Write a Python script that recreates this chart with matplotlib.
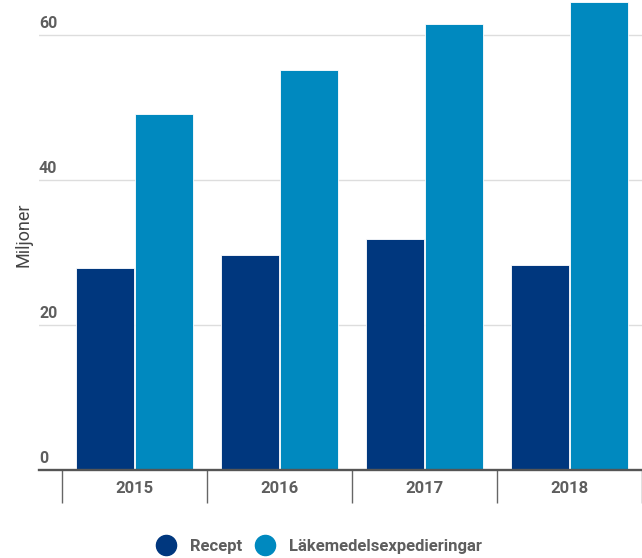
import matplotlib.pyplot as plt
from matplotlib.lines import Line2D
from matplotlib.transforms import ScaledTranslation
import numpy as np

plt.rcParams['font.family'] = ['Roboto', 'DejaVu Sans']

years = ['2015', '2016', '2017', '2018']
recept = [27.9, 29.6, 31.9, 28.3]
lakemedel = [49.1, 55.2, 61.5, 64.5]
yticks = [0, 20, 40, 60]

c_recept = '#00377e'
c_lak = '#0089bf'
txt = '#5e5e5e'
fw = 'bold'

fig = plt.figure(figsize=(6.42, 5.58), dpi=100)
ax = fig.add_axes([39 / 642, 1 - 470 / 558, 1 - 39 / 642, 470 / 558])

x = np.arange(len(years))
w = 0.4
ax.bar(x - 0.205, recept, w, color=c_recept, edgecolor='white', linewidth=0.6, zorder=3)
ax.bar(x + 0.205, lakemedel, w, color=c_lak, edgecolor='white', linewidth=0.6, zorder=3)

ax.set_xlim(-0.5 - 23 / 146, 3.5 - 4 / 146)
ax.set_ylim(0, 64.83)

# gridlines + y labels sitting on top of them
ax.set_yticks(yticks)
ax.yaxis.grid(True, color='#dddddd', linewidth=1)
ax.tick_params(axis='y', length=0, pad=0, labelsize=11.5, labelcolor=txt)
off = ScaledTranslation(0, 3 / 72, fig.dpi_scale_trans)
for lab in ax.get_yticklabels():
    lab.set_horizontalalignment('left')
    lab.set_verticalalignment('bottom')
    lab.set_fontweight(fw)
    lab.set_transform(lab.get_transform() + off)

# x axis with category dividers
ax.set_xticks(x)
ax.set_xticklabels(years, fontsize=12, color=txt, fontweight=fw)
ax.tick_params(axis='x', which='major', length=0, pad=8)
ax.set_xticks(np.arange(len(years) + 1) - 0.5, minor=True)
ax.tick_params(axis='x', which='minor', length=24, width=1, color='#666666')

for s in ['top', 'right', 'left']:
    ax.spines[s].set_visible(False)
ax.spines['bottom'].set_color('#555555')
ax.spines['bottom'].set_linewidth(1.7)
ax.spines['bottom'].set_zorder(4)

ax.set_ylabel('Miljoner', fontsize=13, color='#444444')
ax.yaxis.set_label_coords(-6 / 603, 0.5)

handles = [
    Line2D([], [], marker='o', linestyle='', markersize=14.5, color=c_recept),
    Line2D([], [], marker='o', linestyle='', markersize=14.5, color=c_lak),
]
fig.legend(handles, ['Recept', 'Läkemedelsexpedieringar'], loc='center',
           bbox_to_anchor=(318 / 642, 1 - 546 / 558), ncol=2, frameon=False,
           labelcolor=txt, handletextpad=0.72, columnspacing=0.7,
           handlelength=1.4, prop={'weight': fw, 'size': 12})

fig.savefig('out.png', dpi=100)
